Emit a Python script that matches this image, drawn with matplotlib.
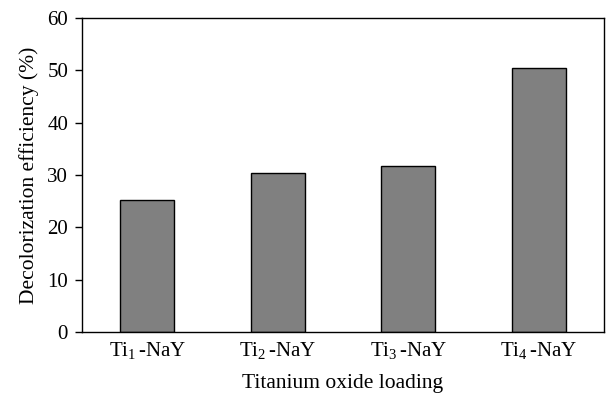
import numpy as np
import matplotlib
matplotlib.use("Agg")
import matplotlib.pyplot as plt

plt.rcParams["font.family"] = "Liberation Serif"
plt.rcParams["mathtext.fontset"] = "custom"
plt.rcParams["mathtext.rm"] = "Liberation Serif"
plt.rcParams["mathtext.it"] = "Liberation Serif"

# Decolorization efficiency per catalyst
labels = ["Ti$_1\\,$-NaY", "Ti$_2\\,$-NaY", "Ti$_3\\,$-NaY", "Ti$_4\\,$-NaY"]
efficiency = [25.2, 30.4, 31.8, 50.4]

fig = plt.figure(figsize=(6.07, 3.94), dpi=100)
ax = fig.add_axes([82 / 607, 1 - 332 / 394, 522 / 607, 314 / 394])

x = np.arange(len(labels))
ax.bar(x, efficiency, width=0.41, color="#808080", edgecolor="black", linewidth=1.0)

ax.set_xlim(-0.5, len(labels) - 0.5)
ax.set_ylim(0, 60)
ax.set_yticks(np.arange(0, 61, 10))
ax.set_xticks(x)
ax.set_xticklabels(labels)
ax.tick_params(axis="x", length=0, pad=6, labelsize=15)
ax.tick_params(axis="y", direction="out", length=5, width=1, labelsize=15, pad=5)
for s in ax.spines.values():
    s.set_linewidth(1.0)

ax.set_xlabel("Titanium oxide loading", fontsize=15.5, labelpad=9)
ax.set_ylabel("Decolorization efficiency (%)", fontsize=15.5, labelpad=6)

fig.savefig("out.png", dpi=100)
